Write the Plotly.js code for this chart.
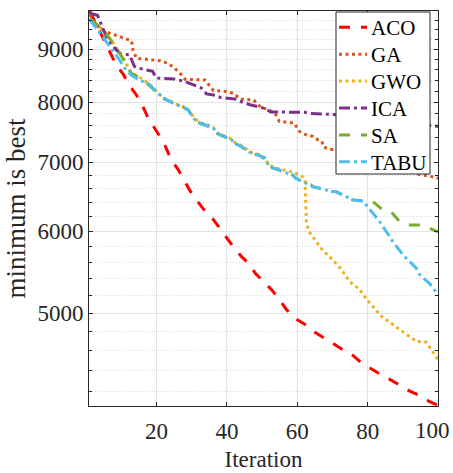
<!DOCTYPE html>
<html>
<head>
<meta charset="utf-8">
<script src="https://cdn.plot.ly/plotly-3.0.1.min.js"></script>
<style>html,body{margin:0;padding:0;background:#fff;}#chart{width:453px;height:473px;}</style>
</head>
<body>
<div id="chart"></div>
<script>
// ---- data ----
const seriesNames = ["ACO", "GA", "GWO", "ICA", "SA", "TABU"];

const acoX = [1,4,5,7,8.5,10.6,12.3,14.5,16.1,17.5,19.4,22.1,24.2,26.1,27.8,29.4,31.5,33.4,35.9,37.7,39.9,41.8,44.2,46.3,48,50.1,52.9,54.9,56.9,59.1,62.2,64.4,67.7,69.9,72.9,75.3,78.2,80.6,83.9,86.3,89.6,92,95.3,97.5,100];
const acoY = [9800,9333,9194,8892,8697,8505,8308,8106,7927,7735,7553,7305,7033,6889,6727,6578,6424,6302,6177,6055,5921,5798,5670,5587,5469,5380,5261,5157,5043,4950,4877,4806,4734,4681,4610,4569,4478,4426,4360,4316,4249,4204,4158,4110,4075];

const gaX = [1,3.8,6.7,12.9,13.3,14.3,17.1,20.9,23.3,25.2,27.1,28.1,33.8,35.2,36.2,39,41.9,43.8,47.6,50,51.5,53.9,54.9,59.1,60.6,62.5,64.4,65.8,67,67.4,69.1,70.6,78,88,95.2,97.7,100];
const gaY = [9720,9430,9326,9173,8985,8821,8801,8774,8723,8626,8499,8418,8405,8280,8207,8201,8158,8055,8038,7890,7885,7780,7666,7636,7497,7440,7414,7358,7331,7244,7202,7202,7065,6940,6802,6788,6752];

const gwoX = [1,5.1,8,10.9,12.7,16.1,18.9,20.9,21.8,25.6,27,28.9,30.9,32.3,36.1,37,41.3,42.3,44.2,47,48.9,50.7,52,54.9,58.7,61.5,62.2,62.6,63.4,64.4,65.8,67.2,68.7,70.1,71.5,73,75,76.3,77.7,78.7,79.6,80.9,82,83,84.2,85.5,86.7,88.2,89.6,91,92.5,93.9,96.7,97.7,99.1,100];
const gwoY = [9630,9380,9100,8780,8550,8420,8270,8140,8085,7965,7935,7880,7705,7650,7565,7480,7370,7310,7260,7150,7125,7075,6950,6895,6848,6780,6740,6108,5996,5929,5843,5756,5692,5628,5566,5484,5360,5321,5273,5221,5164,5107,5050,5006,4958,4921,4895,4848,4812,4777,4731,4696,4689,4637,4568,4511];

const icaX = [1,3.2,4.7,6.1,7.5,8.5,9.9,12.3,12.7,13.7,14.7,18.9,19.9,25.1,28,32.7,34.2,36.6,38,42.3,43.7,45.1,46.6,50.4,52.5,62,63.4,71,84,96.7,100];
const icaY = [9750,9706,9436,9194,9091,8991,8902,8892,8826,8665,8632,8568,8441,8423,8379,8257,8148,8124,8088,8057,8016,7986,7955,7896,7827,7822,7804,7780,7720,7603,7580];

const saX = [1,5.1,8,8.7,10.9,12.7,16.1,18.9,20.9,21.8,25.6,27,28.9,30.9,32.3,36.1,37,41.3,42.3,44.2,47,48.9,50.7,52,54.9,55.8,58.7,59.6,62.5,63.9,64.4,70.1,71,74.9,75.8,78.7,81.5,84.4,86.7,89.1,92,95.8,96.7,98.7,100];
const saY = [9640,9367,9091,9026,8762,8537,8411,8257,8134,8074,7955,7927,7867,7693,7636,7553,7469,7358,7299,7244,7138,7112,7060,6931,6880,6853,6803,6753,6679,6655,6629,6556,6556,6460,6436,6421,6411,6292,6268,6132,6087,6087,6063,6019,5993];

const tabuX = [1,3.2,4.7,6.1,8.1,9.5,10.9,12.7,14.2,18,18.9,20.9,21.8,25.6,27,28.9,30.9,32.3,36.1,37,41.3,42.3,44.2,47,48.9,50.7,52,54.9,55.8,58.7,59.6,62.5,63.9,64.4,70.1,71,74.9,75.8,78.7,79.6,82.5,83.4,86.3,87.2,90.1,91,93.9,94.9,97.7,98.7,100];
const tabuY = [9620,9402,9264,9106,8925,8786,8632,8503,8441,8318,8257,8134,8074,7955,7927,7867,7693,7636,7553,7469,7358,7299,7244,7138,7112,7060,6931,6880,6853,6803,6753,6679,6655,6629,6556,6556,6460,6436,6421,6364,6200,6132,5929,5863,5692,5650,5526,5444,5339,5280,5221];

const xTickVals = [20, 40, 60, 80, 100];
const xTickText = ["20", "40", "60", "80", "100"];
const yTickVals = [5000, 6000, 7000, 8000, 9000];
const yMinorVals = [4200,4400,4600,4800,5200,5400,5600,5800,6200,6400,6600,6800,7200,7400,7600,7800,8200,8400,8600,8800,9200,9400,9600];

// ---- styling ----
const FONT = "Times New Roman, Liberation Serif, serif";
const INK = "#262626";
const styles = [
  {color: "#FF0000", dash: "11px,11px"},
  {color: "#D95319", dash: "3px,3.5px"},
  {color: "#EDB120", dash: "3px,3.5px"},
  {color: "#7E2F8E", dash: "11px,4px,3px,4px"},
  {color: "#77AC30", dash: "11px,11px"},
  {color: "#4DBEEE", dash: "11px,4px,3px,4px"}
];
const xs = [acoX, gaX, gwoX, icaX, saX, tabuX];
const ys = [acoY, gaY, gwoY, icaY, saY, tabuY];

const traces = seriesNames.map((n, i) => ({
  type: "scatter", mode: "lines", name: n,
  x: xs[i], y: ys[i],
  line: {color: styles[i].color, width: 3, dash: styles[i].dash}
}));

// ---- hand-drawn legend box (paper coordinates) ----
const plotTop = 11, plotH = 395, plotL = 89, plotW = 349;
const px2x = p => (p - plotL) / plotW;
const py2y = p => 1 - (p - plotTop) / plotH;
const shapes = [{
  type: "rect", xref: "paper", yref: "paper", layer: "above",
  x0: px2x(336), x1: px2x(430), y0: py2y(174), y1: py2y(12),
  fillcolor: "#ffffff", line: {color: INK, width: 1}
}];
const annotations = [];
seriesNames.forEach((n, i) => {
  const cy = py2y(27.3 + 26.9 * i);
  shapes.push({
    type: "line", xref: "paper", yref: "paper", layer: "above",
    x0: px2x(339), x1: px2x(367), y0: cy, y1: cy,
    line: {color: styles[i].color, width: 3, dash: styles[i].dash}
  });
  annotations.push({
    xref: "paper", yref: "paper", x: px2x(369), y: cy - 0.002,
    xanchor: "left", yanchor: "middle", showarrow: false, text: n,
    font: {family: FONT, size: 21, color: "#000"}
  });
});
// last x tick label sits at the right edge; keep it fully inside the picture
const lastLabel = xTickText[xTickText.length - 1];
annotations.push({
  xref: "paper", yref: "paper", x: px2x(452), y: py2y(431),
  xanchor: "right", yanchor: "middle", showarrow: false, text: lastLabel,
  font: {family: FONT, size: 23, color: INK}
});
const shownTickText = xTickText.map((t, i) => i === xTickText.length - 1 ? "" : t);

const layout = {
  width: 453, height: 473,
  margin: {l: 89, r: 15, t: 11, b: 67, pad: 0},
  paper_bgcolor: "#ffffff", plot_bgcolor: "#ffffff",
  font: {family: FONT, size: 22, color: INK},
  showlegend: false,
  shapes: shapes,
  annotations: annotations,
  xaxis: {
    range: [0.8, 100], tickvals: xTickVals, ticktext: shownTickText,
    ticks: "inside", ticklen: 4, tickcolor: INK, tickwidth: 1,
    ticklabelstandoff: 4,
    showline: true, linecolor: INK, linewidth: 1, mirror: "ticks",
    showgrid: true, gridcolor: "#e3e3e3", gridwidth: 1, zeroline: false,
    tickfont: {family: FONT, size: 23, color: INK},
    title: {text: "Iteration", font: {family: FONT, size: 23, color: INK}, standoff: 8}
  },
  yaxis: {
    type: "log", range: [Math.log10(4068), Math.log10(9800)],
    tickvals: yTickVals, ticktext: yTickVals.map(String),
    ticks: "inside", ticklen: 4, tickcolor: INK, tickwidth: 1,
    showline: true, linecolor: INK, linewidth: 1, mirror: "ticks",
    showgrid: true, gridcolor: "#e3e3e3", gridwidth: 1, zeroline: false,
    tickfont: {family: FONT, size: 23, color: INK},
    title: {text: "minimum is best", font: {family: FONT, size: 27, color: INK}, standoff: 3},
    minor: {tickmode: "array", tickvals: yMinorVals, ticks: "inside", ticklen: 3, tickcolor: INK,
            showgrid: true, gridcolor: "#d6d6d6", griddash: "1px,2px", gridwidth: 1}
  }
};

Plotly.newPlot("chart", traces, layout, {displayModeBar: false, staticPlot: true});
</script>
</body>
</html>
